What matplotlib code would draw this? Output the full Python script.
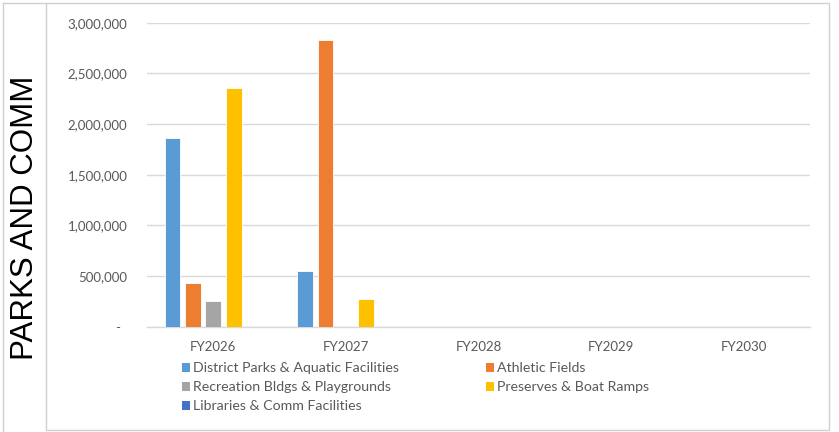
import matplotlib
matplotlib.use("Agg")
import matplotlib.pyplot as plt
import numpy as np
from matplotlib.patches import Rectangle
from matplotlib.lines import Line2D
from matplotlib.ticker import FuncFormatter

# Fiscal years and capital spending by facility type
years = ["FY2026", "FY2027", "FY2028", "FY2029", "FY2030"]
series_names = [
    "District Parks & Aquatic Facilities",
    "Athletic Fields",
    "Recreation Bldgs & Playgrounds",
    "Preserves & Boat Ramps",
    "Libraries & Comm Facilities",
]
district_parks = [1860000, 545000, 0, 0, 0]
athletic_fields = [435000, 2830000, 0, 0, 0]
recreation_bldgs = [255000, 0, 0, 0, 0]
preserves = [2355000, 270000, 0, 0, 0]
libraries = [0, 0, 0, 0, 0]
colors = ["#5B9BD5", "#ED7D31", "#A5A5A5", "#FFC000", "#4472C4"]

values = [district_parks, athletic_fields, recreation_bldgs, preserves, libraries]

W, H = 839, 432
fig = plt.figure(figsize=(W / 100, H / 100), dpi=100)
fig.patch.set_facecolor("white")

font = ["Lato", "DejaVu Sans"]
tick_color = "#595959"
fs = 9.5
leg_fs = 10.2

ax = fig.add_axes([147 / W, (H - 326.7) / H, (810 - 147) / W, (326.7 - 22.7) / H])
x = np.arange(len(years))
step = 0.154
width = 0.118
handles = []
for i, (vals, c) in enumerate(zip(values, colors)):
    off = (i - (len(values) - 1) / 2) * step
    b = ax.bar(x + off, vals, width, color=c, edgecolor="white", linewidth=0.6,
               label=series_names[i], zorder=3)
    handles.append(b)

ax.set_xlim(-0.5, len(years) - 0.5)
ax.set_ylim(0, 3000000)
ax.set_yticks(np.arange(0, 3000001, 500000))
ax.yaxis.set_major_formatter(FuncFormatter(lambda v, p: "-  " if v == 0 else f"{int(v):,}"))
ax.set_xticks(x)
ax.set_xticklabels(years)
ax.grid(axis="y", color="#D9D9D9", linewidth=1.0, zorder=0)
ax.set_axisbelow(True)
for s in ["top", "right", "left"]:
    ax.spines[s].set_visible(False)
ax.spines["bottom"].set_color("#D9D9D9")
ax.spines["bottom"].set_linewidth(1.0)
ax.tick_params(axis="both", length=0, colors=tick_color, labelsize=fs)
ax.tick_params(axis="y", pad=14)
ax.tick_params(axis="x", pad=10)
for lab in ax.get_xticklabels() + ax.get_yticklabels():
    lab.set_fontfamily(font)

# Legend laid out row by row, two columns
order = [0, 2, 4, 1, 3]
leg = fig.legend([handles[i] for i in order], [series_names[i] for i in order],
                 ncol=2, loc="upper left", bbox_to_anchor=(182 / W, 1 - 362.5 / H),
                 frameon=False, prop={"family": font, "size": leg_fs},
                 handlelength=0.56, handleheight=0.56, handletextpad=0.2,
                 columnspacing=6.2, labelspacing=0.49, borderaxespad=0, borderpad=0)
for t in leg.get_texts():
    t.set_color(tick_color)
for h in leg.legend_handles:
    h.set_edgecolor("none")

# Row header cell and chart border
border = "#D0D0D0"
fig.add_artist(Rectangle((46 / W, 2 / H), (829 - 46) / W, (430 - 3) / H,
                         transform=fig.transFigure, fill=False, edgecolor=border, linewidth=1))
fig.add_artist(Line2D([3 / W, 3 / W], [0, 1 - 3 / H], transform=fig.transFigure,
                      color=border, linewidth=1))
fig.add_artist(Line2D([3 / W, 46 / W], [1 - 3 / H, 1 - 3 / H], transform=fig.transFigure,
                      color=border, linewidth=1))
fig.text(25 / W, 1 - 217.5 / H, "PARKS AND COMM", rotation=90, ha="center", va="center",
         fontsize=22.5, family=["Liberation Sans", "DejaVu Sans"], color="black")

fig.savefig("out.png", dpi=100, facecolor="white")
